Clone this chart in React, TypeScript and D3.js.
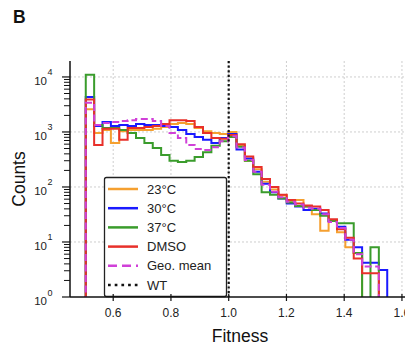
import React from "react";
import * as d3 from "d3";

// Histogram bins (fitness)
const binStart = 0.505;
const binWidth = 0.029;

const seriesNames = ["23°C", "30°C", "37°C", "DMSO", "Geo. mean"];

const counts23 = [2600, 960, 1090, 630, 1030, 1090, 1090, 1090, 1140, 1230, 1400, 1460, 1400, 1180, 1030, 960, 920, 1000,
  560, 300, 210, 125, 90, 70, 56, 58, 44, 32, 16, 24, 15, 8, 6.3];
const counts30 = [4300, 1290, 1520, 1290, 1340, 1290, 1400, 1340, 1340, 1290, 1230, 1090, 920, 810, 720, 630, 780, 920,
  480, 330, 190, 115, 80, 62, 50, 44, 38, 40, 33, 24, 19, 11, 8, 4.2, 4.2, 3.1];
const counts37 = [11000, 1340, 1180, 1180, 1090, 960, 780, 630, 510, 380, 300, 285, 300, 350, 430, 560, 680, 810,
  540, 300, 170, 80, 72, 62, 52, 45, 44, 38, 30, 24, 22, 22, 6.3, 0, 8];
const countsDMSO = [3900, 580, 1140, 1140, 720, 1180, 1180, 1230, 1290, 1400, 1640, 1640, 1580, 1230, 960, 780, 750, 880,
  600, 360, 230, 140, 100, 72, 58, 50, 46, 44, 38, 26, 17, 12, 5, 2.7, 2.7];
const countsGeo = [3400, 1340, 1460, 1520, 1580, 1640, 1720, 1720, 1580, 1290, 960, 780, 580, 490, 470, 530, 680, 840,
  520, 310, 190, 110, 82, 65, 54, 48, 42, 40, 32, 23, 18, 11, 6, 3.6, 3.6];

const xTicks = [0.6, 0.8, 1.0, 1.2, 1.4, 1.6];
const yDecades = [0, 1, 2, 3, 4];
const wtFitness = 1.0;

const colors = ["#f5a030", "#1a1aff", "#3a9c2c", "#e8302a", "#d040d8"];

const W = 405;
const H = 345;
const left = 70;
const right = 410;
const top = 61;
const bottom = 297;

export default function App() {
  const x = d3.scaleLinear().domain([0.6, 1.6]).range([113.2, 401.95]);
  const y = d3.scaleLog().domain([1, 19500]).range([bottom, top]);
  const allSeries = [counts23, counts30, counts37, countsDMSO, countsGeo];

  const yv = (v: number) => (v <= 0 ? bottom + 6 : y(v));
  const line = d3
    .line<[number, number]>()
    .x((d) => x(d[0]))
    .y((d) => d[1])
    .curve(d3.curveStepAfter);

  const stepPath = (vals: number[]) => {
    const pts: [number, number][] = [[binStart, bottom + 6]];
    vals.forEach((v, k) => pts.push([binStart + k * binWidth, yv(v)]));
    pts.push([binStart + vals.length * binWidth, bottom + 6]);
    return line(pts) || "";
  };

  const minor: number[] = [];
  yDecades.forEach((d) => {
    for (let m = 2; m <= 9; m++) {
      const v = m * Math.pow(10, d);
      if (v <= 19500) minor.push(v);
    }
  });

  const font = "'Liberation Sans', Arial, sans-serif";
  const legendY0 = 189;
  const legendStep = 19.2;

  return (
    <svg width={W} height={H} style={{ position: "absolute", left: 0, top: 0, background: "#fff" }} fontFamily={font}>
      <defs>
        <clipPath id="plotclip">
          <rect x={left} y={top - 5} width={right - left} height={bottom - top + 5} />
        </clipPath>
      </defs>
      <rect x={0} y={0} width={W} height={H} fill="#fff" />
      <text x={13} y={22.5} fontSize={17.5} fontWeight="bold" fill="#111">B</text>

      {/* grid */}
      {yDecades.filter((d) => d > 0).map((d) => (
        <line key={"gy" + d} x1={left} x2={right} y1={y(Math.pow(10, d))} y2={y(Math.pow(10, d))}
          stroke="#c8c8c8" strokeWidth={0.9} strokeDasharray="2,2" />
      ))}
      {xTicks.map((t) => (
        <line key={"gx" + t} x1={x(t)} x2={x(t)} y1={top} y2={bottom}
          stroke="#c8c8c8" strokeWidth={0.9} strokeDasharray="2,2" />
      ))}

      {/* histograms */}
      <g clipPath="url(#plotclip)">
        {allSeries.map((s, i) => (
          <path key={"s" + i} d={stepPath(s)} fill="none" stroke={colors[i]} strokeWidth={2}
            strokeDasharray={i === 4 ? "7,3.5" : undefined} strokeLinejoin="miter" />
        ))}
        <line x1={x(wtFitness)} x2={x(wtFitness)} y1={top} y2={bottom} stroke="#111" strokeWidth={2.2}
          strokeDasharray="2.2,2.4" />
      </g>

      {/* legend */}
      <rect x={104.5} y={177.5} width={122} height={119} fill="#fff" stroke="#222" strokeWidth={1.3} rx={2} />
      {seriesNames.map((n, i) => (
        <g key={"l" + i}>
          <line x1={108} x2={138} y1={legendY0 + i * legendStep} y2={legendY0 + i * legendStep}
            stroke={colors[i]} strokeWidth={2.5} strokeDasharray={i === 4 ? "9,5" : undefined} />
          <text x={147} y={legendY0 + i * legendStep} dy="0.36em" fontSize={13} fill="#222">{n}</text>
        </g>
      ))}
      <line x1={108} x2={138} y1={legendY0 + 5 * legendStep} y2={legendY0 + 5 * legendStep}
        stroke="#111" strokeWidth={2.7} strokeDasharray="2.7,4" />
      <text x={147} y={legendY0 + 5 * legendStep} dy="0.36em" fontSize={13} fill="#222">WT</text>

      {/* axes */}
      <line x1={left} x2={left} y1={top} y2={bottom} stroke="#111" strokeWidth={1.5} />
      <line x1={left} x2={right} y1={bottom} y2={bottom} stroke="#111" strokeWidth={1.5} />
      {yDecades.map((d) => {
        const yy = y(Math.pow(10, d));
        return (
          <g key={"yt" + d}>
            <line x1={left - 8} x2={left} y1={yy} y2={yy} stroke="#111" strokeWidth={1.2} />
            <text x={47} y={yy + 8} fontSize={11.5} textAnchor="end" fill="#222">10</text>
            <text x={47.6} y={yy - 1.5} fontSize={9} fill="#222">{d}</text>
          </g>
        );
      })}
      {minor.map((v, i) => (
        <line key={"ym" + i} x1={left - 6} x2={left} y1={y(v)} y2={y(v)} stroke="#111" strokeWidth={1} />
      ))}
      {xTicks.map((t) => (
        <g key={"xt" + t}>
          <line x1={x(t)} x2={x(t)} y1={bottom - 3} y2={bottom + 4} stroke="#111" strokeWidth={1.2} />
          <text x={x(t)} y={317} fontSize={12} textAnchor="middle" fill="#222">{t.toFixed(1)}</text>
        </g>
      ))}
      <text transform={`translate(25,179) rotate(-90)`} textAnchor="middle" fontSize={17.5} fill="#111">Counts</text>
      <text x={240} y={342} textAnchor="middle" fontSize={17.5} fill="#111">Fitness</text>
    </svg>
  );
}
